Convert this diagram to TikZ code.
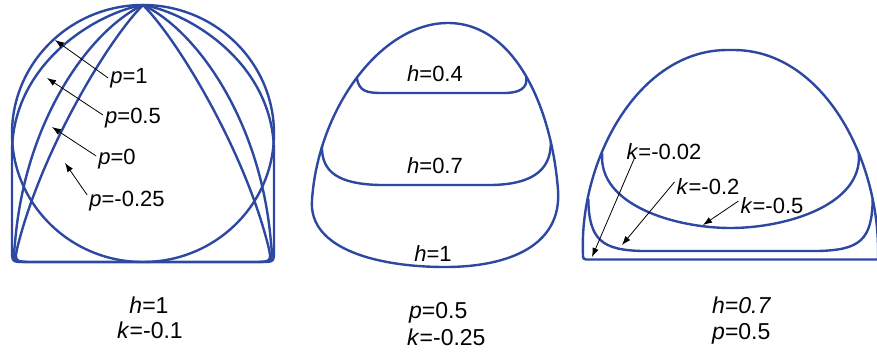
\documentclass[tikz,border=0pt]{standalone}
\usepackage{fontspec}
\setmainfont{Liberation Sans}
\usetikzlibrary{arrows.meta}
\definecolor{curveblue}{RGB}{44,72,160}
\begin{document}
\begin{tikzpicture}[x=1pt,y=-1pt,
  curve/.style={draw=curveblue,line width=2.4pt,line join=round},
  arr/.style={draw=black,line width=0.8pt,-{Latex[length=9pt,width=6.5pt]}},
  lbl/.style={inner sep=0pt,font=\fontsize{22}{26}\selectfont},
  caplbl/.style={inner sep=0pt,font=\fontsize{23}{27}\selectfont}]
\useasboundingbox (0,0) rectangle (877,356);

% ---------- panel 1 ----------
\draw[curve] (143,133.5) ellipse[x radius=131, y radius=128.5];
\draw[curve] (143,5) .. controls (100,12) and (14,60) .. (12,150) -- (12,249)
  .. controls (12,262) .. (25,262) -- (261,262) .. controls (274,262) .. (274,249)
  -- (274,150) .. controls (272,60) and (186,12) .. (143,5);
\draw[curve] (143,5) .. controls (90,30) and (25,120) .. (15,243)
  .. controls (13,262) .. (32,262) -- (254,262) .. controls (273,262) .. (271,243)
  .. controls (261,120) and (196,30) .. (143,5);
\draw[curve] (143,5) .. controls (108,40) and (42,150) .. (18,245)
  .. controls (14,262) .. (35,262) -- (251,262) .. controls (272,262) .. (268,245)
  .. controls (244,150) and (178,40) .. (143,5);

\node[lbl] (p1) at (129,78) {\textit{p}=1};
\node[lbl] (p2) at (133,118) {\textit{p}=0.5};
\node[lbl] (p3) at (117,159) {\textit{p}=0};
\node[lbl] (p4) at (127,201) {\textit{p}=-0.25};
\coordinate (t1) at (55,40);
\coordinate (t2) at (47,78);
\coordinate (t3) at (52,127);
\coordinate (t4) at (65,163);
\draw[arr] ([xshift=-2pt]p1.west) -- (t1);
\draw[arr] ([xshift=-2pt,yshift=3pt]p2.west) -- (t2);
\draw[arr] ([xshift=-2pt,yshift=3pt]p3.west) -- (t3);
\draw[arr] ([xshift=-2pt,yshift=6pt]p4.west) -- (t4);

\node[caplbl,anchor=base] (c1a) at (149,313) {\textit{h}=1};
\node[caplbl,anchor=base] (c1b) at (150,338) {\textit{k}=-0.1};

% ---------- panel 2 ----------
\draw[curve] (448,23) .. controls (380,23) and (318,110) .. (312,200)
  .. controls (308,250) and (380,267) .. (445,267)
  .. controls (510,267) and (562,245) .. (558,190)
  .. controls (552,110) and (516,23) .. (448,23);
\draw[curve] (356.75,77.75) .. controls (359,91) and (366,93) .. (382,93)
  -- (504,93) .. controls (520,93) and (528,88) .. (526.25,76.5);
\draw[curve] (321.9,147) .. controls (322,172) and (338,184) .. (380,185)
  -- (492,185) .. controls (538,184) and (551,166) .. (550.8,141.9);
\node[lbl] (h4) at (435,74) {\textit{h}=0.4};
\node[lbl] (h7) at (435,166) {\textit{h}=0.7};
\node[lbl] (h1) at (433,254) {\textit{h}=1};

\node[caplbl,anchor=base west] (c2a) at (409,318) {\textit{p}=0.5};
\node[caplbl,anchor=base west] (c2b) at (407,345) {\textit{k}=-0.25};

% ---------- panel 3 ----------
\draw[curve,rounded corners=3pt] (878,259.5) -- (583,259.5) -- (583,255)
  .. controls (580,160) and (638,50) .. (730.5,50)
  .. controls (823,50) and (881,160) .. (878,259);
\draw[curve] (588.3,199.2) .. controls (589,240) and (602,250) .. (642,251)
  -- (818,251) .. controls (860,250) and (872,240) .. (872.7,199.2);
\draw[curve] (602.2,153.45) .. controls (598,205) and (675,228) .. (730.5,228)
  .. controls (786,228) and (863,205) .. (858.8,153.45);

\node[lbl] (k1) at (664,152) {\textit{k}=-0.02};
\node[lbl] (k2) at (708,187) {\textit{k}=-0.2};
\node[lbl] (k3) at (772,206) {\textit{k}=-0.5};
\coordinate (u1) at (592,257);
\coordinate (u2) at (622,245);
\coordinate (u3) at (703,225);
\draw[arr] ([xshift=8pt,yshift=2pt]k1.south west) -- (u1);
\draw[arr] ([xshift=-2pt,yshift=5pt]k2.west) -- (u2);
\draw[arr] ([xshift=-2pt,yshift=5pt]k3.west) -- (u3);

\node[caplbl,anchor=base west] (c3a) at (712,313) {\textit{h}=\textit{0.7}};
\node[caplbl,anchor=base west] (c3b) at (712,339) {\textit{p}=0.5};
\end{tikzpicture}
\end{document}
